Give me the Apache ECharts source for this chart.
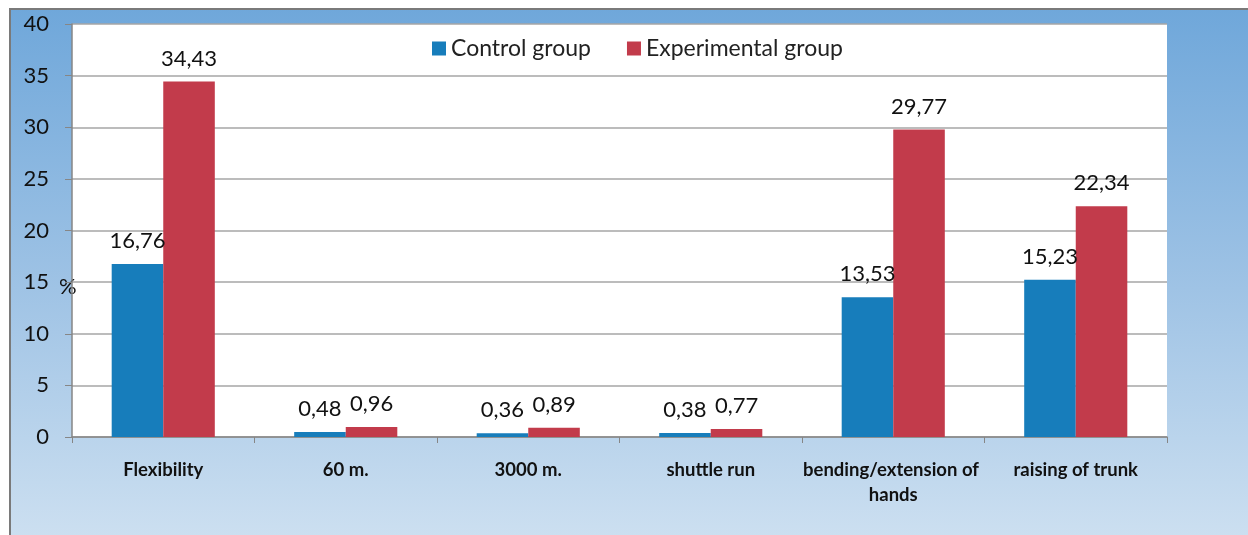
<!DOCTYPE html>
<html><head><meta charset="utf-8">
<script src="https://cdn.jsdelivr.net/npm/echarts@6/dist/echarts.min.js"></script>
<style>html,body{margin:0;padding:0;background:#fff}#c{width:1248px;height:535px}</style>
</head><body><div id="c"></div>
<script>
const categories = ['Flexibility', '60 m.', '3000 m.', 'shuttle run', 'bending/extension of hands', 'raising of trunk'];
const controlGroup = [16.76, 0.48, 0.36, 0.38, 13.53, 15.23];
const experimentalGroup = [34.43, 0.96, 0.89, 0.77, 29.77, 22.34];
const seriesNames = ['Control group', 'Experimental group'];
const yTicks = {min: 0, max: 40, interval: 5};
const yName = '%';

const FONT = 'Lato, "Open Sans", sans-serif';
const fmt = p => String(p.value).replace('.', ',');
const chart = echarts.init(document.getElementById('c'), null, {renderer: 'canvas'});
chart.setOption({
  animation: false,
  backgroundColor: '#ffffff',
  graphic: [
    {type: 'rect', z: -10, silent: true, shape: {x: 10, y: 9, width: 1260, height: 560},
      style: {fill: new echarts.graphic.LinearGradient(0, 0, 0, 1, [
        {offset: 0, color: '#6fa7da'}, {offset: 0.5, color: '#9fc3e5'}, {offset: 1, color: '#d2e3f2'}]),
        stroke: '#7a7a7a', lineWidth: 2}},
    {type: 'rect', z: -5, silent: true, shape: {x: 72, y: 24, width: 1095, height: 413}, style: {fill: '#ffffff'}},
    {type: 'text', left: 59, top: 276, style: {text: yName, font: '22px ' + FONT, fill: '#111'}}
  ],
  color: ['#177dbb', '#c23b4b'],
  legend: {
    data: seriesNames, top: 32, left: 427, itemWidth: 14, itemHeight: 14, itemGap: 36,
    icon: 'rect', textStyle: {fontSize: 23, fontFamily: FONT, color: '#222'}
  },
  grid: {left: 72, right: 81, top: 24, bottom: 98, containLabel: false},
  xAxis: {
    type: 'category', data: categories,
    axisLine: {lineStyle: {color: '#868686', width: 1.5}},
    axisTick: {show: true, length: 6, lineStyle: {color: '#868686'}},
    axisLabel: {fontSize: 18.5, fontWeight: 'bold', fontFamily: FONT, color: '#111', margin: 21,
      width: 192, overflow: 'break', lineHeight: 25, interval: 0}
  },
  yAxis: {
    type: 'value', min: yTicks.min, max: yTicks.max, interval: yTicks.interval,
    axisLine: {show: true, lineStyle: {color: '#868686', width: 1.5}},
    axisTick: {show: true, length: 7, lineStyle: {color: '#868686'}},
    splitLine: {lineStyle: {color: '#a6a6a6', width: 1.5}},
    axisLabel: {fontSize: 22, fontFamily: FONT, color: '#111', margin: 23}
  },
  series: [
    {name: seriesNames[0], type: 'bar', data: controlGroup, barGap: '0%', barCategoryGap: '43.5%',
      label: {show: true, position: 'top', distance: 12, fontSize: 22, fontFamily: FONT, color: '#111', formatter: fmt}},
    {name: seriesNames[1], type: 'bar', data: experimentalGroup, barGap: '0%', barCategoryGap: '43.5%',
      label: {show: true, position: 'top', distance: 12, fontSize: 22, fontFamily: FONT, color: '#111', formatter: fmt}}
  ]
});
</script></body></html>
